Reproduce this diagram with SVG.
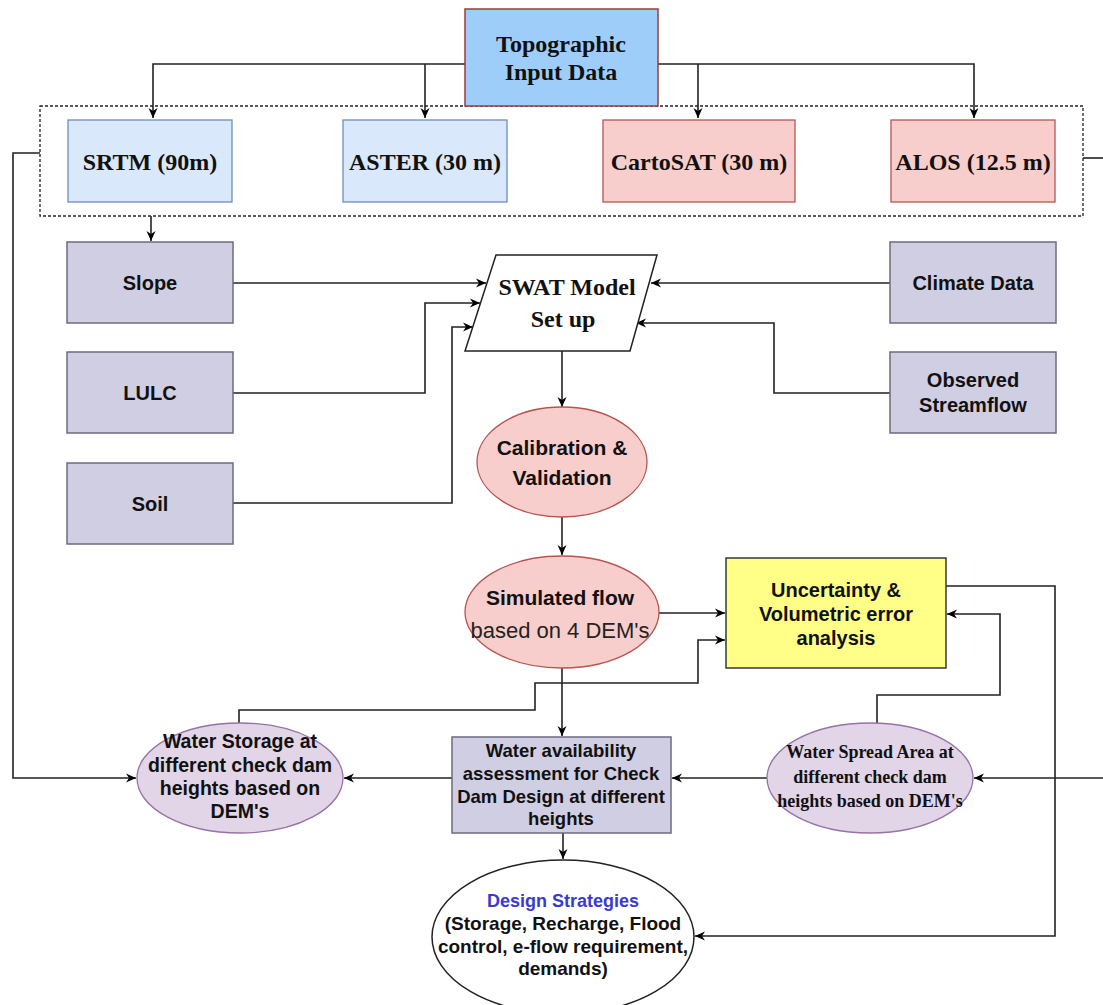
<svg xmlns="http://www.w3.org/2000/svg" width="1103" height="1005" viewBox="0 0 1103 1005">
<defs>
<marker id="arr" viewBox="0 0 10 10" refX="10" refY="5" markerWidth="10" markerHeight="10" markerUnits="userSpaceOnUse" orient="auto">
<path d="M0,0.5 L10,5 L0,9.5 L3,5 z" fill="#000"/>
</marker>
<style>
.c{fill:none;stroke:#222;stroke-width:1.6;marker-end:url(#arr)}
.cn{fill:none;stroke:#222;stroke-width:1.6}
.serif{font-family:"Liberation Serif","Times New Roman",serif;font-weight:bold;fill:#111;text-anchor:middle}
.sans{font-family:"Liberation Sans",Arial,sans-serif;font-weight:bold;fill:#111;text-anchor:middle}
.blue{fill:#dae8fc;stroke:#6c8ebf;stroke-width:1.3}
.red{fill:#f8cecc;stroke:#b85450;stroke-width:1.3}
.pur{fill:#d0cee2;stroke:#6e6b80;stroke-width:1.5}
.lil{fill:#e1d5e7;stroke:#9673a6;stroke-width:1.3}
</style>
</defs>
<rect width="1103" height="1005" fill="#fff"/>

<g id="connectors">
<path class="c" d="M465,64 H153 V118"/>
<path class="c" d="M425,64 V118"/>
<path class="c" d="M658,64 H974 V118"/>
<path class="c" d="M698,64 V118"/>
<path class="c" d="M151,216 V241"/>
<path class="c" d="M40,153 H13 V778 H136"/>
<path class="cn" d="M1083,158 H1103"/>
<path class="c" d="M1103,778 H974"/>
<path class="c" d="M233,283 H486"/>
<path class="c" d="M233,393 H425 V303 H480"/>
<path class="c" d="M233,503 H452 V327 H473"/>
<path class="c" d="M890,283 H651"/>
<path class="c" d="M890,393 H774 V323 H636"/>
<path class="c" d="M562,351 V407"/>
<path class="c" d="M562,517 V555"/>
<path class="c" d="M659,613 H725"/>
<path class="c" d="M239,723 V710 H535 V683 H698 V640 H725"/>
<path class="c" d="M562,668 V736"/>
<path class="c" d="M452,778 H344"/>
<path class="c" d="M767,778 H672"/>
<path class="c" d="M877,723 V695 H1000 V614 H947"/>
<path class="c" d="M946,586 H1055 V936 H695"/>
<path class="c" d="M563,833 V859"/>
</g>

<g id="dem-group">
<rect x="40" y="106" width="1043" height="110" fill="none" stroke="#222" stroke-width="1.3" stroke-dasharray="3,2"/>
</g>

<g id="topo">
<rect x="465" y="9" width="193" height="97" fill="#9ecdfa" stroke="#a03a3a" stroke-width="1.5"/>
<text class="serif" x="561" y="52" font-size="24">Topographic</text>
<text class="serif" x="561" y="80" font-size="24">Input Data</text>
</g>

<g id="srtm">
<rect class="blue" x="68" y="120" width="164" height="82"/>
<text class="serif" x="150" y="170" font-size="24">SRTM (90m)</text>
</g>
<g id="aster">
<rect class="blue" x="343" y="120" width="164" height="82"/>
<text class="serif" x="425" y="170" font-size="24">ASTER (30 m)</text>
</g>
<g id="cartosat">
<rect class="red" x="603" y="120" width="192" height="82"/>
<text class="serif" x="699" y="170" font-size="24">CartoSAT (30 m)</text>
</g>
<g id="alos">
<rect class="red" x="891" y="120" width="164" height="82"/>
<text class="serif" x="973" y="170" font-size="24">ALOS (12.5 m)</text>
</g>

<g id="slope">
<rect class="pur" x="67" y="242" width="166" height="81"/>
<text class="sans" x="150" y="290" font-size="20">Slope</text>
</g>
<g id="lulc">
<rect class="pur" x="67" y="352" width="166" height="81"/>
<text class="sans" x="150" y="400" font-size="20">LULC</text>
</g>
<g id="soil">
<rect class="pur" x="67" y="463" width="166" height="81"/>
<text class="sans" x="150" y="511" font-size="20">Soil</text>
</g>

<g id="climate">
<rect class="pur" x="890" y="242" width="166" height="81"/>
<text class="sans" x="973" y="290" font-size="20">Climate Data</text>
</g>
<g id="observed">
<rect class="pur" x="890" y="352" width="166" height="81"/>
<text class="sans" x="973" y="387" font-size="20">Observed</text>
<text class="sans" x="973" y="412" font-size="20">Streamflow</text>
</g>

<g id="swat">
<polygon points="496,255 657,255 630,351 465,351" fill="#fff" stroke="#222" stroke-width="1.5"/>
<text class="serif" x="567" y="295" font-size="24">SWAT Model</text>
<text class="serif" x="563" y="327" font-size="24">Set up</text>
</g>

<g id="calibration">
<ellipse class="red" cx="562" cy="462" rx="85" ry="55"/>
<text class="sans" x="562" y="455" font-size="21">Calibration &amp;</text>
<text class="sans" x="562" y="485" font-size="21">Validation</text>
</g>

<g id="simulated">
<ellipse class="red" cx="562" cy="612" rx="97" ry="56"/>
<text class="sans" x="560" y="605" font-size="21">Simulated flow</text>
<text x="560" y="638" font-size="22" font-family="Liberation Sans, Arial, sans-serif" fill="#222" text-anchor="middle">based on 4 DEM's</text>
</g>

<g id="uncertainty">
<rect x="726" y="558" width="220" height="110" fill="#ffff88" stroke="#36393d" stroke-width="1.5"/>
<text class="sans" x="836" y="597" font-size="20">Uncertainty &amp;</text>
<text class="sans" x="836" y="621" font-size="20">Volumetric error</text>
<text class="sans" x="836" y="645" font-size="20">analysis</text>
</g>

<g id="water-storage">
<ellipse class="lil" cx="240" cy="778" rx="103" ry="55"/>
<text class="sans" x="240" y="748" font-size="19.5">Water Storage at</text>
<text class="sans" x="240" y="772" font-size="19.5">different check dam</text>
<text class="sans" x="240" y="795" font-size="19.5">heights based on</text>
<text class="sans" x="240" y="818" font-size="19.5">DEM's</text>
</g>

<g id="water-availability">
<rect class="pur" x="452" y="737" width="219" height="96"/>
<text class="sans" x="561" y="757" font-size="18.5">Water availability</text>
<text class="sans" x="561" y="780" font-size="18.5">assessment for Check</text>
<text class="sans" x="561" y="803" font-size="18.5">Dam Design at different</text>
<text class="sans" x="561" y="825" font-size="18.5">heights</text>
</g>

<g id="water-spread">
<ellipse class="lil" cx="870" cy="778" rx="103" ry="55"/>
<text class="serif" x="870" y="758" font-size="18">Water Spread Area at</text>
<text class="serif" x="870" y="783" font-size="18">different check dam</text>
<text class="serif" x="870" y="807" font-size="18">heights based on DEM's</text>
</g>

<g id="design">
<ellipse cx="563" cy="937" rx="131" ry="77" fill="#fff" stroke="#222" stroke-width="1.5"/>
<text class="sans" x="563" y="907" font-size="18" style="fill:#3a3ad0">Design Strategies</text>
<text class="sans" x="563" y="930" font-size="19">(Storage, Recharge, Flood</text>
<text class="sans" x="563" y="953" font-size="19">control, e-flow requirement,</text>
<text class="sans" x="563" y="975" font-size="19">demands)</text>
</g>
</svg>
